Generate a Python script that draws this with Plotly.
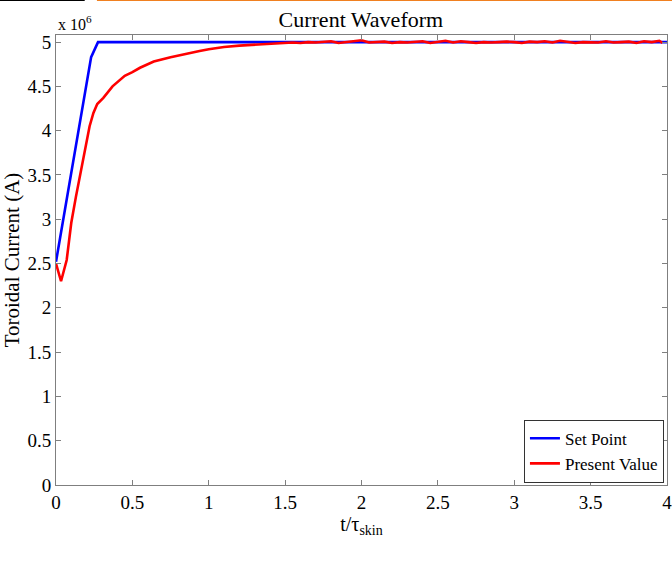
import plotly.graph_objects as go

# Set point (units of 1e6 A)
set_t = [0.0, 0.23, 0.275, 4.0]
set_v = [2.52, 4.83, 5.0, 5.0]

# Present value (units of 1e6 A)
red_t = [0.0, 0.033, 0.07, 0.10, 0.13, 0.16, 0.19, 0.22, 0.245, 0.27, 0.31, 0.37, 0.45,
         0.50, 0.55, 0.64, 0.75, 0.85, 0.94, 1.0, 1.1, 1.2, 1.3, 1.4,
         1.50, 1.55, 1.60, 1.65, 1.70, 1.75, 1.80, 1.85, 1.90, 1.95, 2.00,
         2.05, 2.10, 2.15, 2.20, 2.25, 2.30, 2.35, 2.40, 2.45, 2.50,
         2.55, 2.60, 2.65, 2.70, 2.75, 2.80, 2.85, 2.90, 2.95, 3.00,
         3.05, 3.10, 3.15, 3.20, 3.25, 3.30, 3.35, 3.40, 3.45, 3.50,
         3.55, 3.60, 3.65, 3.70, 3.75, 3.80, 3.85, 3.90, 3.95, 3.97]
red_v = [2.50, 2.30, 2.54, 2.96, 3.25, 3.52, 3.80, 4.05, 4.20, 4.30, 4.37, 4.50, 4.62,
         4.66, 4.71, 4.78, 4.83, 4.87, 4.90, 4.92, 4.945, 4.96, 4.972, 4.982,
         4.99, 4.995, 4.99, 5.0, 4.995, 5.0, 5.01, 4.99, 5.0, 5.005, 5.02,
         4.995, 5.0, 5.005, 4.99, 5.0, 4.995, 5.0, 5.01, 4.99, 5.005,
         5.015, 4.995, 5.01, 5.0, 4.99, 5.0, 4.995, 5.0, 5.005, 5.0,
         4.99, 5.005, 5.0, 5.01, 4.995, 5.015, 5.0, 4.99, 5.0, 5.0,
         4.995, 5.01, 4.995, 5.0, 5.005, 4.99, 5.01, 5.0, 5.015, 4.99]

x_ticks = [0, 0.5, 1, 1.5, 2, 2.5, 3, 3.5, 4]
x_labels = ["0", "0.5", "1", "1.5", "2", "2.5", "3", "3.5", "4"]
y_ticks = [0, 0.5, 1, 1.5, 2, 2.5, 3, 3.5, 4, 4.5, 5]
y_labels = ["0", "0.5", "1", "1.5", "2", "2.5", "3", "3.5", "4", "4.5", "5"]

FONT = "Liberation Serif"

fig = go.Figure()
fig.add_trace(go.Scatter(x=set_t, y=set_v, mode="lines", name="Set Point",
                         line=dict(color="#0000ff", width=2.6)))
fig.add_trace(go.Scatter(x=red_t, y=red_v, mode="lines", name="Present Value",
                         line=dict(color="#ff0000", width=2.6)))

axis_common = dict(showgrid=False, zeroline=False, showline=True, linecolor="#7f7f7f",
                   linewidth=1, mirror="ticks", ticks="inside", ticklen=5,
                   tickcolor="#7f7f7f", ticklabeloverflow="allow", automargin=False,
                   tickfont=dict(family=FONT, size=19, color="#000"))

fig.update_xaxes(range=[0, 4], tickvals=x_ticks, ticktext=x_labels,
                 title=dict(text="t/τ<sub>skin</sub>", font=dict(family=FONT, size=20, color="#000"),
                            standoff=2),
                 **axis_common)
fig.update_yaxes(range=[0, 5.08], tickvals=y_ticks, ticktext=y_labels,
                 title=dict(text="Toroidal Current (A)", font=dict(family=FONT, size=21, color="#000"),
                            standoff=2),
                 **axis_common)

fig.update_layout(
    width=672, height=561,
    margin=dict(l=56, r=5, t=35, b=76, autoexpand=False),
    paper_bgcolor="white", plot_bgcolor="white",
    title=dict(text="Current Waveform", x=0.537, xanchor="center", y=0.98, yanchor="top",
               font=dict(family=FONT, size=22, color="#000")),
    legend=dict(x=0.995, xanchor="right", y=0.005, yanchor="bottom",
                font=dict(family=FONT, size=17, color="#000"),
                bordercolor="#333", borderwidth=1, bgcolor="white",
                itemwidth=30, tracegroupgap=0),
    annotations=[dict(text="x 10<sup>6</sup>", xref="paper", yref="paper", x=0.0, y=1.0,
                      xanchor="left", yanchor="bottom", showarrow=False,
                      font=dict(family=FONT, size=16, color="#000"))],
    shapes=[
        dict(type="line", xref="paper", yref="paper", x0=-0.0917, x1=0.047, y0=1.0778, y1=1.0778,
             line=dict(color="#000", width=2)),
        dict(type="line", xref="paper", yref="paper", x0=0.067, x1=1.01, y0=1.0778, y1=1.0778,
             line=dict(color="#f08020", width=2)),
    ],
)

fig.write_html("out.html")
